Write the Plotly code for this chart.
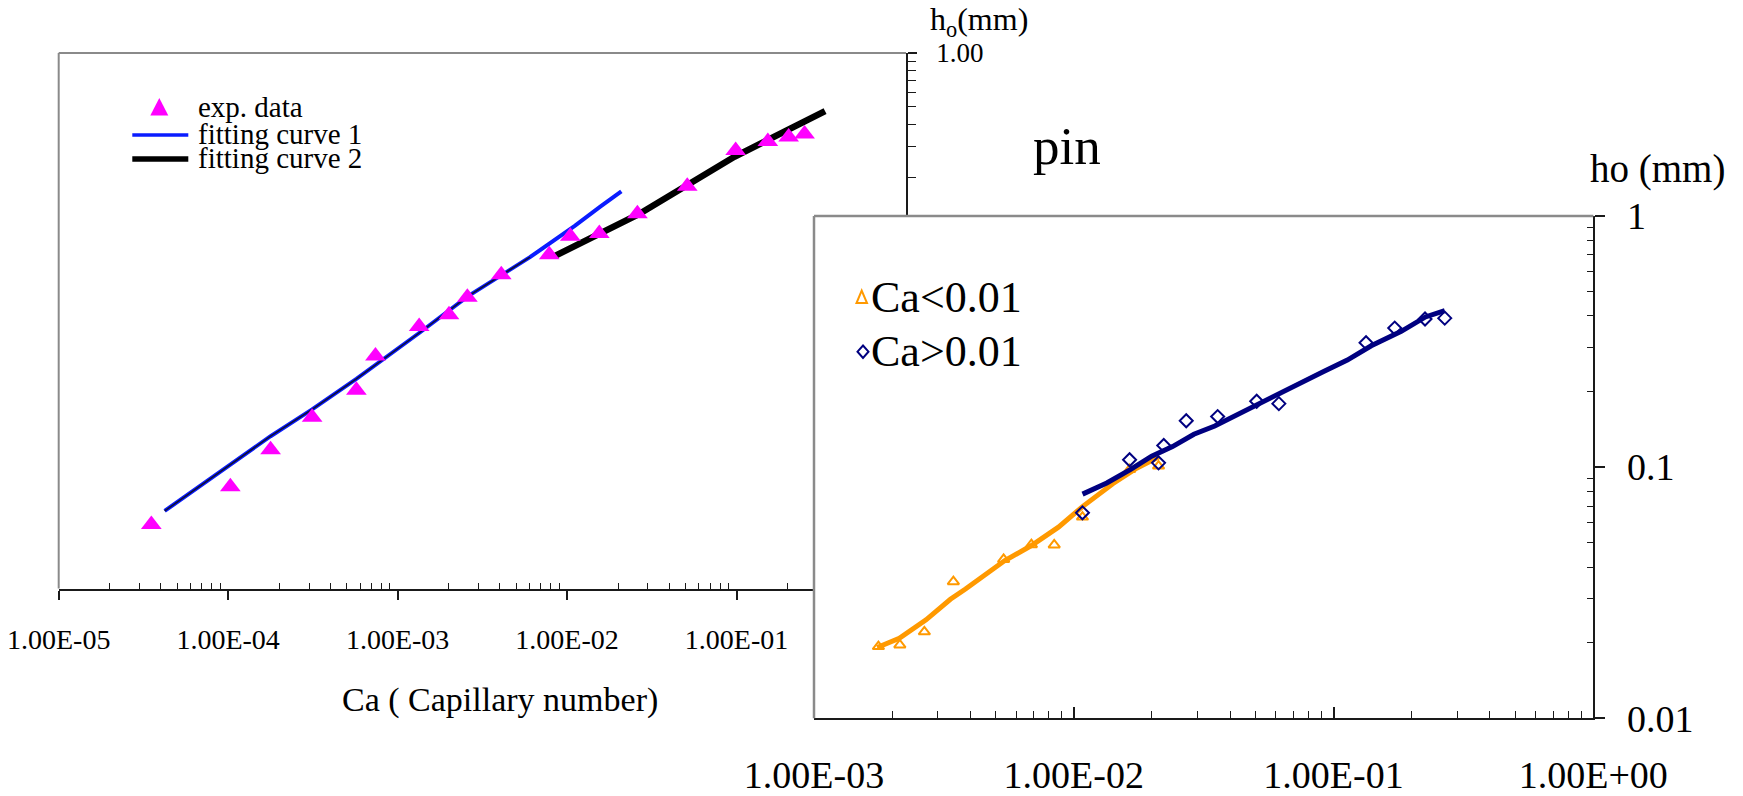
import plotly.graph_objects as go

W, H = 1743, 796
FONT = "Liberation Serif, Times New Roman, serif"

# ---------------- data: left chart ----------------
exp_ca = [3.52e-5, 1.03e-4, 1.78e-4, 3.13e-4, 5.71e-4, 7.40e-4, 1.34e-3, 2.01e-3, 2.58e-3,
          4.09e-3, 7.85e-3, 1.045e-2, 1.55e-2, 2.60e-2, 5.12e-2, 9.88e-2, 0.153, 0.203, 0.252]
exp_h = [0.00228, 0.00371, 0.00599, 0.00912, 0.01289, 0.0201, 0.0294, 0.0342, 0.0428,
         0.0572, 0.0742, 0.0941, 0.0975, 0.1259, 0.179, 0.284, 0.319, 0.338, 0.352]
fit1_ca = [4.22e-5, 7.23e-5, 1.78e-4, 3.13e-4, 5.71e-4, 1.34e-3, 2.58e-3, 6.04e-3, 1.11e-2, 1.57e-2, 2.09e-2]
fit1_h = [2.72e-3, 3.90e-3, 7.13e-3, 1.007e-2, 1.493e-2, 2.70e-2, 4.32e-2, 7.18e-2, 0.1076, 0.1377, 0.168]
fit2_ca = [8.55e-3, 2.65e-2, 9.71e-2, 0.333]
fit2_h = [0.0733, 0.125, 0.262, 0.473]

left_xtickvals = [1e-5, 1e-4, 1e-3, 1e-2, 1e-1]
left_xticktext = ["1.00E-05", "1.00E-04", "1.00E-03", "1.00E-02", "1.00E-01"]
left_ytickvals = [1.0]
left_yticktext = ["1.00"]

# ---------------- data: inset chart ("pin") ----------------
low_ca = [1.77e-3, 2.14e-3, 2.66e-3, 3.44e-3, 5.37e-3, 6.87e-3, 8.41e-3, 1.08e-2, 1.64e-2, 2.12e-2]
low_h = [0.0193, 0.0196, 0.0221, 0.0350, 0.0429, 0.0491, 0.0490, 0.0633, 0.0978, 0.101]
high_ca = [1.08e-2, 1.64e-2, 2.12e-2, 2.22e-2, 2.71e-2, 3.58e-2, 5.06e-2, 6.16e-2, 0.1334, 0.172, 0.225, 0.268]
high_h = [0.0658, 0.107, 0.104, 0.122, 0.153, 0.159, 0.183, 0.179, 0.313, 0.358, 0.389, 0.392]
lowfit_ca = [1.75e-3, 2.13e-3, 2.70e-3, 3.35e-3, 3.83e-3, 4.49e-3, 5.41e-3, 6.87e-3, 8.73e-3,
             1.081e-2, 1.413e-2, 1.746e-2, 2.13e-2]
lowfit_h = [0.01914, 0.02084, 0.02466, 0.02979, 0.03273, 0.03673, 0.04236, 0.04875, 0.05768,
            0.06966, 0.08590, 0.09908, 0.1099]
highfit_ca = [1.081e-2, 1.34e-2, 1.656e-2, 1.995e-2, 2.40e-2, 2.90e-2, 3.49e-2, 4.32e-2, 5.36e-2,
              6.28e-2, 7.38e-2, 9.12e-2, 0.1130, 0.1397, 0.1823, 0.2259, 0.268]
highfit_h = [0.0781, 0.0865, 0.0980, 0.1106, 0.1207, 0.1352, 0.1459, 0.1633, 0.1828,
             0.1972, 0.2143, 0.2399, 0.2668, 0.3043, 0.3475, 0.3964, 0.4196]

inset_xtickvals = [1e-3, 1e-2, 1e-1, 1.0]
inset_xticktext = ["1.00E-03", "1.00E-02", "1.00E-01", "1.00E+00"]
inset_ytickvals = [0.01, 0.1, 1.0]
inset_yticktext = ["0.01", "0.1", "1"]


def minor_vals(lo, hi):
    return [m * 10.0 ** e for e in range(lo, hi) for m in range(2, 10)]


def px(x):
    return x / W


def py(y):
    return 1 - y / H


fig = go.Figure()

# left chart traces
fig.add_trace(go.Scatter(x=fit1_ca, y=fit1_h, mode="lines", line=dict(color="#0a1cff", width=4),
                         xaxis="x", yaxis="y", showlegend=False, hoverinfo="skip"))
dark_ca = [c for c in fit1_ca if c <= 8e-3]
dark_h = [h for c, h in zip(fit1_ca, fit1_h) if c <= 8e-3]
fig.add_trace(go.Scatter(x=dark_ca, y=dark_h, mode="lines", line=dict(color="#101030", width=1.5),
                         xaxis="x", yaxis="y", showlegend=False, hoverinfo="skip"))
fig.add_trace(go.Scatter(x=fit2_ca, y=fit2_h, mode="lines", line=dict(color="black", width=6.5),
                         xaxis="x", yaxis="y", showlegend=False))
fig.add_trace(go.Scatter(x=exp_ca, y=exp_h, mode="markers",
                         marker=dict(symbol="triangle-up", size=18, color="#ff00ff", line=dict(width=0)),
                         xaxis="x", yaxis="y", showlegend=False))

# inset traces
fig.add_trace(go.Scatter(x=lowfit_ca, y=lowfit_h, mode="lines", line=dict(color="#ff9900", width=5),
                         xaxis="x2", yaxis="y2", showlegend=False))
fig.add_trace(go.Scatter(x=low_ca, y=low_h, mode="markers",
                         marker=dict(symbol="triangle-up-open", size=10, color="#ff9900", line=dict(width=2)),
                         xaxis="x2", yaxis="y2", showlegend=False))
fig.add_trace(go.Scatter(x=highfit_ca, y=highfit_h, mode="lines", line=dict(color="#000080", width=5),
                         xaxis="x2", yaxis="y2", showlegend=False))
fig.add_trace(go.Scatter(x=high_ca, y=high_h, mode="markers",
                         marker=dict(symbol="diamond-open", size=10, color="#000080", line=dict(width=2)),
                         xaxis="x2", yaxis="y2", showlegend=False))

axcol = "#1a1a1a"
fig.update_layout(
    width=W, height=H, autosize=False,
    margin=dict(l=0, r=0, t=0, b=0, pad=0, autoexpand=False),
    paper_bgcolor="white", plot_bgcolor="white",
    showlegend=False,
    xaxis=dict(type="log", range=[-5, 0], domain=[px(58.7), px(906)], anchor="y", automargin=False,
               showline=True, linecolor=axcol, linewidth=2, showgrid=False, zeroline=False,
               tickmode="array", tickvals=left_xtickvals, ticktext=left_xticktext,
               ticks="outside", ticklen=9, tickwidth=1.5, tickcolor=axcol,
               minor=dict(tickmode="array", tickvals=minor_vals(-5, 0), ticks="inside", ticklen=6,
                          tickwidth=1, tickcolor=axcol, showgrid=False),
               tickfont=dict(family=FONT, size=28, color="black"), ticklabelstandoff=16),
    yaxis=dict(type="log", range=[-3, 0], domain=[py(588.5), py(53)], anchor="x", side="right",
               automargin=False,
               showline=True, linecolor=axcol, linewidth=1.5, showgrid=False, zeroline=False,
               tickmode="array", tickvals=left_ytickvals, ticktext=left_yticktext,
               ticks="outside", ticklen=9, tickwidth=1.5, tickcolor=axcol,
               minor=dict(tickmode="array", tickvals=minor_vals(-3, 0), ticks="outside", ticklen=8,
                          tickwidth=1, tickcolor=axcol, showgrid=False),
               tickfont=dict(family=FONT, size=27, color="black"), ticklabelstandoff=14),
    xaxis2=dict(type="log", range=[-3, 0], domain=[px(814), px(1593.3)], anchor="y2", automargin=False,
                showline=True, linecolor=axcol, linewidth=2, showgrid=False, zeroline=False,
                tickmode="array", tickvals=inset_xtickvals, ticktext=inset_xticktext,
                ticks="inside", ticklen=11, tickwidth=1.5, tickcolor=axcol,
                minor=dict(tickmode="array", tickvals=minor_vals(-3, 0), ticks="inside", ticklen=7,
                           tickwidth=1, tickcolor=axcol, showgrid=False),
                tickfont=dict(family=FONT, size=38, color="black"), ticklabelstandoff=22),
    yaxis2=dict(type="log", range=[-2, 0], domain=[py(718.3), py(216)], anchor="x2", side="right",
                automargin=False,
                showline=True, linecolor=axcol, linewidth=2, showgrid=False, zeroline=False,
                tickmode="array", tickvals=inset_ytickvals, ticktext=inset_yticktext,
                ticks="outside", ticklen=10, tickwidth=1.5, tickcolor=axcol,
                minor=dict(tickmode="array", tickvals=minor_vals(-2, 0), ticks="inside", ticklen=6,
                           tickwidth=1, tickcolor=axcol, showgrid=False),
                tickfont=dict(family=FONT, size=38, color="black"), ticklabelstandoff=14),
)

gray = "#8a8a8a"
shapes = [
    # left chart frame (top, left)
    dict(type="line", xref="paper", yref="paper", x0=px(58.7), x1=px(906), y0=py(53), y1=py(53),
         line=dict(color=gray, width=2), layer="below"),
    dict(type="line", xref="paper", yref="paper", x0=px(58.7), x1=px(58.7), y0=py(53), y1=py(588.5),
         line=dict(color=gray, width=2), layer="below"),
    # inset frame (top, left)
    dict(type="line", xref="paper", yref="paper", x0=px(814), x1=px(1593.3), y0=py(216), y1=py(216),
         line=dict(color=gray, width=2.5), layer="above"),
    dict(type="line", xref="paper", yref="paper", x0=px(814), x1=px(814), y0=py(216), y1=py(718.3),
         line=dict(color=gray, width=2.5), layer="above"),
    # left legend swatches
    dict(type="path", xref="paper", yref="paper",
         path=f"M{px(150.3)},{py(115.5)} L{px(168.3)},{py(115.5)} L{px(159.3)},{py(98)} Z",
         fillcolor="#ff00ff", line=dict(width=0), layer="above"),
    dict(type="line", xref="paper", yref="paper", x0=px(132.3), x1=px(188.3), y0=py(135), y1=py(135),
         line=dict(color="#0a1cff", width=3.5), layer="above"),
    dict(type="line", xref="paper", yref="paper", x0=px(132.3), x1=px(188.3), y0=py(159), y1=py(159),
         line=dict(color="black", width=5.5), layer="above"),
    # inset legend swatches
    dict(type="path", xref="paper", yref="paper",
         path=f"M{px(856.5)},{py(303)} L{px(867)},{py(303)} L{px(861.7)},{py(290.5)} Z",
         line=dict(color="#ff9900", width=2), layer="above"),
    dict(type="path", xref="paper", yref="paper",
         path=f"M{px(863)},{py(345.5)} L{px(868.5)},{py(351.7)} L{px(863)},{py(358)} L{px(857.5)},{py(351.7)} Z",
         line=dict(color="#000080", width=2), layer="above"),
]
fig.update_layout(shapes=shapes)


def ann(text, x, y, size, xanchor="left", yanchor="middle"):
    return dict(text=text, x=px(x), y=py(y), xref="paper", yref="paper", showarrow=False,
                xanchor=xanchor, yanchor=yanchor, font=dict(family=FONT, size=size, color="black"))


annotations = [
    ann("exp. data", 196, 107, 29),
    ann("fitting curve 1", 196, 134, 29),
    ann("fitting curve 2", 196, 157.5, 29),
    ann("Ca ( Capillary number)", 499.5, 700, 34, xanchor="center"),
    ann("h<sub>o</sub>(mm)", 928, 22, 32),
    ann("pin", 1067, 146, 53, xanchor="center"),
    ann("ho (mm)", 1588, 169, 39),
    ann("Ca&lt;0.01", 869, 297, 44),
    ann("Ca&gt;0.01", 869, 351.5, 44),
]
fig.update_layout(annotations=annotations)

fig.write_html("out.html",
               config={"displayModeBar": False},
               post_script="document.body.style.margin='0';document.body.style.overflow='hidden';")
